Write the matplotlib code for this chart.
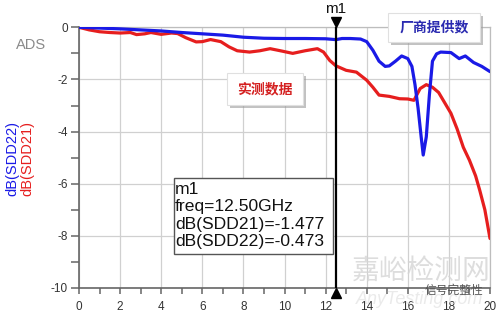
import matplotlib
matplotlib.use("Agg")
import matplotlib.pyplot as plt
import matplotlib.patheffects as pe
from matplotlib.patches import Rectangle

plt.rcParams['font.family'] = ['Liberation Sans', 'Noto Sans CJK SC', 'DejaVu Sans']

# ---- data ----
freq_22 = [0, 1, 2, 3, 4, 5, 6, 7, 8, 9, 10, 11, 12, 12.5, 12.8, 13.2, 13.7, 14.0, 14.3,
           14.6, 14.9, 15.1, 15.4, 15.7, 16.0, 16.2, 16.35, 16.5, 16.65, 16.75, 16.9,
           17.05, 17.2, 17.4, 17.6, 18.1, 18.5, 18.8, 19.2, 19.6, 20]
sdd22 = [0, -0.03, -0.06, -0.1, -0.14, -0.2, -0.25, -0.3, -0.38, -0.42, -0.43, -0.43,
         -0.44, -0.473, -0.43, -0.43, -0.45, -0.55, -0.88, -1.3, -1.5, -1.48, -1.3,
         -1.1, -1.2, -1.5, -2.2, -3.1, -4.2, -4.9, -4.2, -2.6, -1.3, -1.02, -0.95,
         -0.97, -1.2, -1.1, -1.35, -1.5, -1.7]

freq_21 = [0, 0.5, 1.0, 1.5, 2.0, 2.5, 2.8, 3.2, 3.5, 4.0, 4.5, 4.8, 5.2, 5.7, 6.0,
           6.4, 6.9, 7.3, 7.7, 8.3, 8.8, 9.3, 9.8, 10.4, 11.0, 11.6, 11.9, 12.2, 12.5,
           13.0, 13.5, 14.0, 14.3, 14.6, 15.1, 15.6, 16.0, 16.3, 16.6, 16.9, 17.2,
           17.5, 17.8, 18.1, 18.4, 18.7, 19.0, 19.3, 19.5, 19.75, 20]
sdd21 = [0, -0.1, -0.17, -0.2, -0.22, -0.2, -0.28, -0.25, -0.2, -0.27, -0.22, -0.24,
         -0.4, -0.56, -0.55, -0.47, -0.55, -0.75, -0.9, -0.95, -0.9, -0.82, -0.9,
         -1.0, -0.9, -0.82, -0.95, -1.27, -1.477, -1.65, -1.72, -2.03, -2.3, -2.6,
         -2.65, -2.74, -2.75, -2.8, -2.35, -2.2, -2.3, -2.5, -2.9, -3.3, -3.9, -4.6,
         -5.1, -5.7, -6.25, -7.0, -8.1]

x_major = [0, 2, 4, 6, 8, 10, 12, 14, 16, 18, 20]
y_major = [0, -2, -4, -6, -8, -10]
marker_freq = 12.5
marker_lines = ["m1", "freq=12.50GHz", "dB(SDD21)=-1.477", "dB(SDD22)=-0.473"]

BLUE = '#1a1ae6'
RED = '#e61e1e'

fig = plt.figure(figsize=(5.0, 3.13), dpi=100)
ax = fig.add_axes([79/500, 1-288/313, 411/500, 260.7/313])

ax.plot(freq_22, sdd22, color=BLUE, lw=2.3, zorder=4, solid_capstyle='round')
ax.plot(freq_21, sdd21, color=RED, lw=2.3, zorder=3, solid_capstyle='round')

ax.set_xlim(0, 20)
ax.set_ylim(-10, 0)
ax.set_xticks(x_major)
ax.set_xticks([v + 1 for v in x_major[:-1]], minor=True)
ax.set_yticks(y_major)
ax.set_yticks([v - 1 for v in y_major[:-1]], minor=True)
ax.set_xticklabels([str(v) for v in x_major])
ax.set_yticklabels([str(v) for v in y_major])
ax.grid(True, which='major', color='#d0d0d0', lw=0.9)
ax.set_axisbelow(True)
for s in ['top', 'right']:
    ax.spines[s].set_color('#bdbdbd')
    ax.spines[s].set_linewidth(0.9)
for s in ['left', 'bottom']:
    ax.spines[s].set_color('#666666')
    ax.spines[s].set_linewidth(1.2)
ax.tick_params(axis='both', which='both', direction='out', colors='#666666',
               labelcolor='#333333', labelsize=8.5, width=1.1)
ax.tick_params(axis='y', which='both', length=6, pad=2)
ax.tick_params(axis='x', which='both', length=4.5, pad=5)

# y labels
fig.text(12/500, 1-158/313, 'dB(SDD22)', color=BLUE, rotation=90, fontsize=10.5,
         ha='center', va='center')
fig.text(27/500, 1-158/313, 'dB(SDD21)', color=RED, rotation=90, fontsize=10.5,
         ha='center', va='center')
fig.text(31/500, 1-45/313, 'ADS', color='#8a8a8a', fontsize=10.5, ha='center', va='center')

# marker
ax.axvline(marker_freq, color='black', lw=1.6, zorder=6)
ax.plot([marker_freq], [0.19], marker='v', color='black', markersize=7, clip_on=False,
        zorder=7)
ax.plot([marker_freq], [-10.19], marker='^', color='black', markersize=7, clip_on=False,
        zorder=7)
ax.text(marker_freq, 0.45, 'm1', ha='center', va='bottom', fontsize=11, color='#111111',
        clip_on=False)

# marker info box
x0, x1 = (174-79)/411, (333-79)/411
y0, y1 = (288-254)/260.7, (288-178)/260.7
ax.add_patch(Rectangle((x0, y0), x1-x0, y1-y0, transform=ax.transAxes,
                       facecolor='white', edgecolor='#555555', lw=1.0, zorder=8))
line_y = [190, 207, 224, 241.5]
for txt, py in zip(marker_lines, line_y):
    ax.text((175-79)/411, (288-py)/260.7, txt, transform=ax.transAxes, fontsize=12.6,
            ha='left', va='center', color='#111111', zorder=9)

shadow = [pe.withSimplePatchShadow(offset=(2.5, -2.5), shadow_rgbFace='#9a9a9a', alpha=0.6)]

# 厂商提供数 box
bx0, bx1 = (388-79)/411, (480-79)/411
by0, by1 = (288-42)/260.7, (288-13)/260.7
r1 = Rectangle((bx0, by0), bx1-bx0, by1-by0, transform=ax.transAxes, facecolor='white',
               edgecolor='#e0e0e0', lw=0.8, zorder=8, clip_on=False)
r1.set_path_effects(shadow)
ax.add_patch(r1)
ax.text((bx0+bx1)/2, (by0+by1)/2, '厂商提供数', transform=ax.transAxes, fontsize=10,
        family=['Noto Sans CJK SC'], fontweight='bold', color='#2a2ab0',
        ha='center', va='center', zorder=9, clip_on=False)

# 实测数据 box
cx0, cx1 = (227-79)/411, (303-79)/411
cy0, cy1 = (288-105)/260.7, (288-73)/260.7
r2 = Rectangle((cx0, cy0), cx1-cx0, cy1-cy0, transform=ax.transAxes, facecolor='white',
               edgecolor='#e0e0e0', lw=0.8, zorder=8)
r2.set_path_effects(shadow)
ax.add_patch(r2)
ax.text((cx0+cx1)/2, (cy0+cy1)/2, '实测数据', transform=ax.transAxes, fontsize=10,
        family=['Noto Sans CJK SC'], fontweight='bold', color='#d42020',
        ha='center', va='center', zorder=9)

# watermark
fig.text(421/500, 1-271/313, '嘉峪检测网', family=['Noto Sans CJK SC'], fontsize=20,
         color='#d5d5d5', ha='center', va='center', alpha=0.8, zorder=10)
fig.text(420/500, 1-299/313, 'AnyTesting.com', fontsize=13, style='italic',
         color='#dddddd', ha='center', va='center', alpha=0.6, zorder=10)
fig.text(454/500, 1-290/313, '信号完整性', family=['Noto Sans CJK SC'], fontsize=8.5,
         color='#555555', ha='center', va='center', zorder=10)

fig.savefig('out.png', dpi=100, facecolor='white')
